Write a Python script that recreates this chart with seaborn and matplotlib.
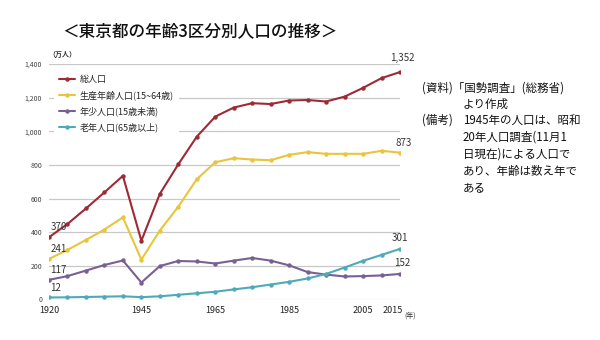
import matplotlib
matplotlib.use("Agg")
import matplotlib.pyplot as plt
import matplotlib.transforms as mtransforms
import seaborn as sns
import pandas as pd
from matplotlib.ticker import FuncFormatter

years = [1920, 1925, 1930, 1935, 1940, 1945, 1950, 1955, 1960, 1965,
         1970, 1975, 1980, 1985, 1990, 1995, 2000, 2005, 2010, 2015]
total = [370, 449, 541, 637, 735, 349, 628, 804, 968, 1087,
         1141, 1167, 1162, 1183, 1186, 1177, 1206, 1258, 1316, 1352]
working = [241, 295, 354, 416, 488, 237, 410, 552, 715, 816,
           840, 832, 828, 860, 876, 866, 866, 866, 884, 873]
youth = [117, 139, 172, 205, 232, 101, 199, 229, 226, 214,
         231, 247, 231, 203, 163, 148, 137, 139, 143, 152]
elderly = [12, 13, 15, 17, 19, 14, 19, 28, 37, 46,
           60, 73, 89, 105, 125, 152, 190, 230, 265, 301]

series_names = ["総人口", "生産年齢人口(15~64歳)", "年少人口(15歳未満)", "老年人口(65歳以上)"]
series_values = [total, working, youth, elderly]
colors = ["#9e2a36", "#e8c53c", "#7a5f95", "#4eaab8"]
xtick_years = [1920, 1945, 1965, 1985, 2005, 2015]
yticks = [0, 200, 400, 600, 800, 1000, 1200, 1400]

sns.set_theme(style="white")
plt.rcParams["font.family"] = ["Noto Sans CJK JP", "DejaVu Sans"]

df = pd.DataFrame({
    "year": years * len(series_names),
    "value": sum(series_values, []),
    "series": sum([[n] * len(years) for n in series_names], []),
})

fig = plt.figure(figsize=(6, 3.4), dpi=100)
ax = fig.add_axes([49 / 600, 1 - 299.5 / 340, (400 - 49) / 600, (299.5 - 64) / 340])

sns.lineplot(data=df, x="year", y="value", hue="series", hue_order=series_names,
             palette=colors, marker="o", markersize=3.2, markeredgewidth=0,
             linewidth=1.5, ax=ax, legend=True)

ax.set_xlim(1920, 2015)
ax.set_ylim(0, 1400)
ax.set_xticks(xtick_years)
ax.set_xticklabels([str(y) for y in xtick_years])
ax.set_yticks(yticks)
ax.yaxis.set_major_formatter(FuncFormatter(lambda v, p: f"{int(v):,}"))
ax.tick_params(axis="y", labelsize=5, colors="#444444", length=0, pad=5)
ax.tick_params(axis="x", labelsize=6.5, colors="#222222", length=0, pad=5)
ax.grid(axis="y", color="#c8c8c8", linewidth=0.9)
ax.set_xlabel("")
ax.set_ylabel("")
for s in ax.spines.values():
    s.set_visible(False)

# last year label sits just left of its tick so the unit fits beside it
last = ax.get_xticklabels()[-1]
last.set_horizontalalignment("right")
last.set_transform(last.get_transform() +
                   mtransforms.ScaledTranslation(2 / 72, 0, fig.dpi_scale_trans))
ax.annotate("(年)", (2015, 0), xycoords="data", xytext=(3, -11.5),
            textcoords="offset points", fontsize=5, color="#333333",
            ha="left", va="center", annotation_clip=False)

leg = ax.legend(loc="upper left", bbox_to_anchor=(0.0, 0.995), fontsize=6.5,
                frameon=True, facecolor="white", edgecolor="white", framealpha=1,
                handlelength=1.8, handletextpad=0.5, labelspacing=0.7,
                borderpad=0.6)
leg.get_frame().set_linewidth(0)

fig.text(62 / 600, 1 - 54 / 340, "（万人）", fontsize=5, ha="center", va="center",
         color="#333333", fontweight="bold")

# value labels at both ends of each series
lab_kw = dict(fontsize=7, color="#333333")
ax.annotate(f"{total[-1]:,}", (years[-1], total[-1]), xytext=(-7, 8),
            textcoords="offset points", **lab_kw)
ax.annotate(f"{working[-1]}", (years[-1], working[-1]), xytext=(-3, 5),
            textcoords="offset points", **lab_kw)
ax.annotate(f"{elderly[-1]}", (years[-1], elderly[-1]), xytext=(-6, 6),
            textcoords="offset points", **lab_kw)
ax.annotate(f"{youth[-1]}", (years[-1], youth[-1]), xytext=(-4, 6),
            textcoords="offset points", **lab_kw)
for vals in series_values:
    ax.annotate(f"{vals[0]}", (years[0], vals[0]), xytext=(1, 5),
                textcoords="offset points", **lab_kw)

fig.text(200 / 600, 1 - 31 / 340, "＜東京都の年齢3区分別人口の推移＞", fontsize=12,
         ha="center", va="center", color="#111111", fontweight="medium")

note_kw = dict(fontsize=8.3, color="#111111", va="center")
fig.text(422 / 600, 1 - 88 / 340, "(資料)「国勢調査」(総務省)", **note_kw)
fig.text(463 / 600, 1 - 104 / 340, "より作成", **note_kw)
fig.text(422 / 600, 1 - 120 / 340, "(備考)", **note_kw)
notes = ["1945年の人口は、昭和", "20年人口調査(11月1", "日現在)による人口で",
         "あり、年齢は数え年で", "ある"]
for i, line in enumerate(notes):
    fig.text(463 / 600, 1 - (120 + 17 * i) / 340, line, **note_kw)

fig.savefig("out.png", dpi=100, facecolor="white")
